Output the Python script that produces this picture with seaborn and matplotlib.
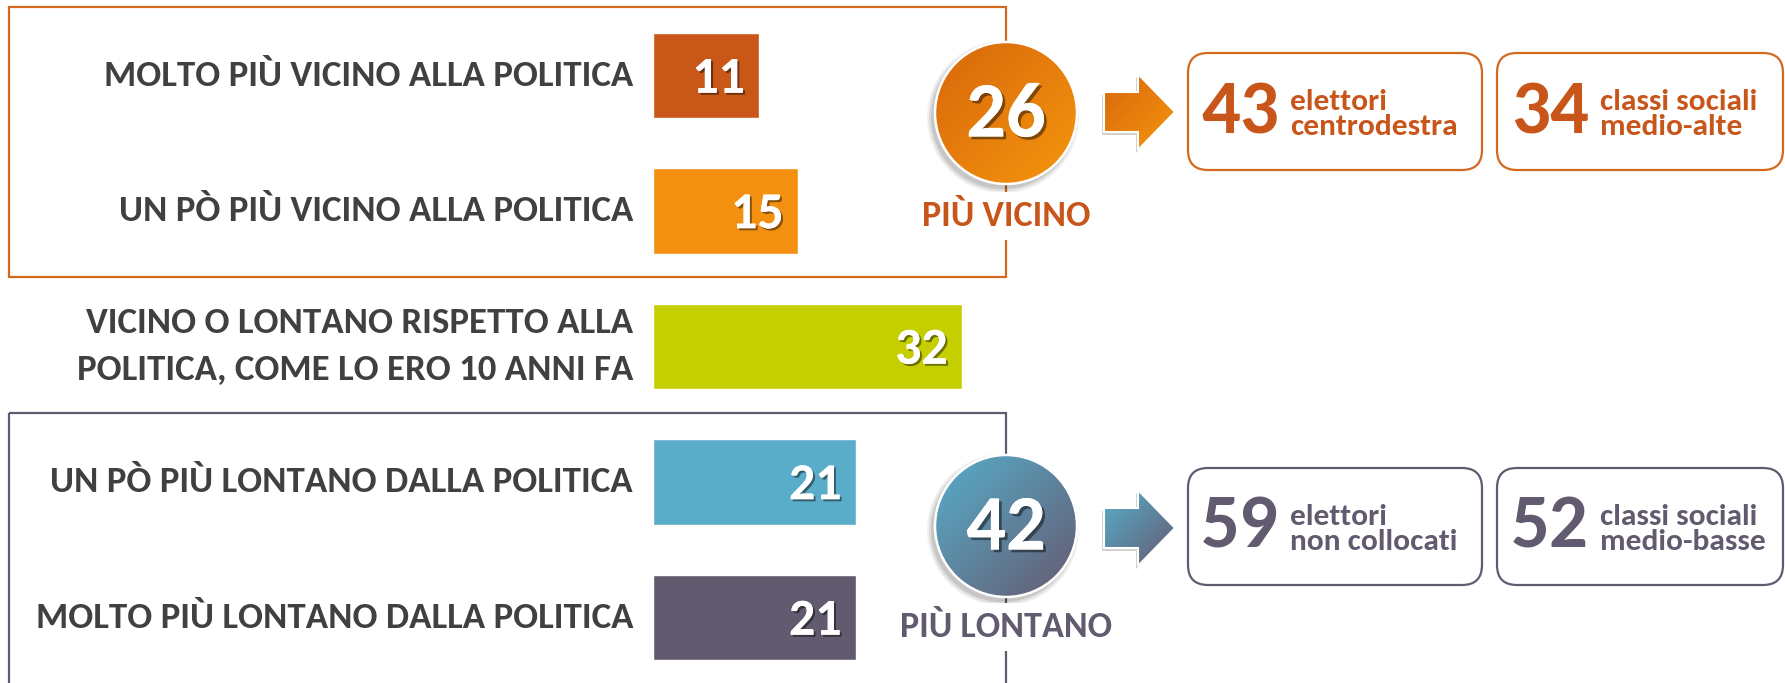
import numpy as np
import pandas as pd
import matplotlib
matplotlib.use("Agg")
import matplotlib.pyplot as plt
import seaborn as sns
from matplotlib import font_manager
from matplotlib import patheffects as pe
from matplotlib.patches import Circle, Polygon, FancyBboxPatch, Rectangle
from matplotlib.colors import LinearSegmentedColormap

# ---------------- data ----------------
categories = [
    "MOLTO PIÙ VICINO ALLA POLITICA",
    "UN PÒ PIÙ VICINO ALLA POLITICA",
    "VICINO O LONTANO RISPETTO ALLA\nPOLITICA, COME LO ERO 10 ANNI FA",
    "UN PÒ PIÙ LONTANO DALLA POLITICA",
    "MOLTO PIÙ LONTANO DALLA POLITICA",
]
values = [11, 15, 32, 21, 21]
bar_colors = ["#C85718", "#F3900F", "#C5CF00", "#5AADC9", "#625A6E"]

group_labels = ["PIÙ VICINO", "PIÙ LONTANO"]
group_members = [[0, 1], [3, 4]]
detail_numbers = [[43, 34], [59, 52]]
detail_texts = [["elettori\ncentrodestra", "classi sociali\nmedio-alte"],
                ["elettori\nnon collocati", "classi sociali\nmedio-basse"]]

# ---------------- style ----------------
avail = {f.name for f in font_manager.fontManager.ttflist}
FAM = next(f for f in ["Carlito", "Lato", "Open Sans", "DejaVu Sans"] if f in avail)
K = 1.13 if FAM == "Carlito" else 1.0

sns.set_theme(style="white")
plt.rcParams["font.family"] = [FAM, "DejaVu Sans"]

W, H = 1785, 683
fig = plt.figure(figsize=(W / 100, H / 100), dpi=100)
fig.patch.set_facecolor("white")

# decoration layer in pixel coordinates
deco = fig.add_axes([0, 0, 1, 1], zorder=0)
deco.set_xlim(0, W)
deco.set_ylim(H, 0)
deco.axis("off")

ORANGE_LINE = "#D2691E"
ORANGE_TXT = "#C8561A"
PURPLE = "#625A6E"
LABEL_C = "#404040"

# group frames
deco.add_patch(Rectangle((9, 7), 997, 270, fill=False, ec=ORANGE_LINE, lw=1.6, zorder=1))
deco.add_patch(Rectangle((9, 413), 997, 300, fill=False, ec=PURPLE, lw=1.6, zorder=1))

# ---------------- bars ----------------
px_per_unit = 9.65
x0 = 653
ax_w_px = 1006 - x0
ax = fig.add_axes([x0 / W, 0, ax_w_px / W, 1], zorder=2)
ax.patch.set_alpha(0)
df = pd.DataFrame({"cat": categories, "val": values})
sns.barplot(data=df, y="cat", x="val", hue="cat", palette=bar_colors,
            orient="h", width=0.63, saturation=1, legend=False, ax=ax)
ax.set_xlim(0, ax_w_px / px_per_unit)
row0, step = 75.5, 135.5
ax.set_ylim((H - row0) / step, -row0 / step)
for s in ax.spines.values():
    s.set_visible(False)
ax.set_xticks([])
ax.set_xlabel("")
ax.set_ylabel("")
ax.set_yticks(range(len(categories)), labels=categories)
ax.tick_params(axis="y", length=0, pad=14.4)
for lab in ax.get_yticklabels():
    lab.set_fontsize(23.5 * K)
    lab.set_fontweight("bold")
    lab.set_color(LABEL_C)
    lab.set_linespacing(1.55)
    lab.set_va("center")

shadow_fx = [pe.withSimplePatchShadow(offset=(1.5, -1.5), shadow_rgbFace="black", alpha=0.45), pe.Normal()]
for i, v in enumerate(values):
    ax.text(v - 14 / px_per_unit, i + 0.02, str(v), ha="right", va="center",
            fontsize=33 * K, fontweight="bold", color="white", path_effects=shadow_fx)


# ---------------- circles, arrows, boxes ----------------
def grad_fill(axx, patch, c1, c2, bbox, z):
    bx0, by0, bx1, by1 = bbox
    n = 200
    xx, yy = np.meshgrid(np.linspace(0, 1, n), np.linspace(0, 1, n))
    t = (xx + yy) / 2
    cmap = LinearSegmentedColormap.from_list("g", [c1, c2])
    im = axx.imshow(t, cmap=cmap, extent=(bx0, bx1, by1, by0), origin="upper",
                    aspect="auto", interpolation="bilinear", zorder=z)
    im.set_clip_path(patch)


grad_cols = [("#D8670B", "#F5960E"), ("#57AECB", "#655A70")]
text_cols = [ORANGE_TXT, PURPLE]
line_cols = [ORANGE_LINE, PURPLE]
circle_cy = [113, 526]
label_cy = [216, 627]
arrow_cy = [112, 528]
box_top = [53, 468]
box_h = 117
R = 71
CX = 1006

for g in range(2):
    total = sum(values[i] for i in group_members[g])
    cy = circle_cy[g]
    # soft shadow
    for k, a in enumerate([0.06, 0.08, 0.10]):
        deco.add_patch(Circle((CX - 3, cy + 4), R + 5 - 2 * k, fc="black", ec="none", alpha=a, zorder=3))
    circ = Circle((CX, cy), R, fc="none", ec="none", zorder=4)
    deco.add_patch(circ)
    grad_fill(deco, circ, grad_cols[g][0], grad_cols[g][1], (CX - R, cy - R, CX + R, cy + R), 4)
    deco.add_patch(Circle((CX, cy), R, fc="none", ec="white", lw=1.8, zorder=5))
    deco.text(CX, cy + 2, str(total), ha="center", va="center", fontsize=50 * K,
              fontweight="bold", color="white", zorder=6,
              path_effects=[pe.withSimplePatchShadow(offset=(2, -2), shadow_rgbFace="black", alpha=0.45), pe.Normal()])
    deco.text(CX, label_cy[g], group_labels[g], ha="center", va="center", fontsize=23 * K,
              fontweight="bold", color=text_cols[g], zorder=6,
              bbox=dict(fc="white", ec="none", pad=6))

    # arrow
    ay = arrow_cy[g]
    pts = [(1104, ay - 20), (1138, ay - 20), (1138, ay - 38), (1175, ay),
           (1138, ay + 38), (1138, ay + 20), (1104, ay + 20)]
    shadow_pts = [(px - 2, py + 3) for px, py in pts]
    deco.add_patch(Polygon(shadow_pts, closed=True, fc="black", ec="none", alpha=0.18, zorder=3))
    arr = Polygon(pts, closed=True, fc="none", ec="none", zorder=4)
    deco.add_patch(arr)
    grad_fill(deco, arr, grad_cols[g][0], grad_cols[g][1], (1104, ay - 38, 1175, ay + 38), 4)
    deco.add_patch(Polygon(pts, closed=True, fc="none", ec="white", lw=1.5, zorder=5))

    # detail boxes
    for j, (bx, bw, nx, tx) in enumerate([(1188, 294, 1201, 1290), (1497, 286, 1511, 1600)]):
        by = box_top[g]
        deco.add_patch(FancyBboxPatch((bx, by), bw, box_h,
                                      boxstyle="round,pad=0,rounding_size=20",
                                      fc="white", ec=line_cols[g], lw=1.6, zorder=2))
        ymid = by + box_h / 2
        deco.text(nx, ymid + 1, str(detail_numbers[g][j]), ha="left", va="center",
                  fontsize=49 * K, fontweight="bold", color=text_cols[g], zorder=6)
        deco.text(tx, ymid + 3, detail_texts[g][j], ha="left", va="center",
                  fontsize=20 * K, fontweight="bold", color=text_cols[g], zorder=6,
                  linespacing=0.95)

deco.set_xlim(0, W)
deco.set_ylim(H, 0)

fig.savefig("out.png", dpi=100)
